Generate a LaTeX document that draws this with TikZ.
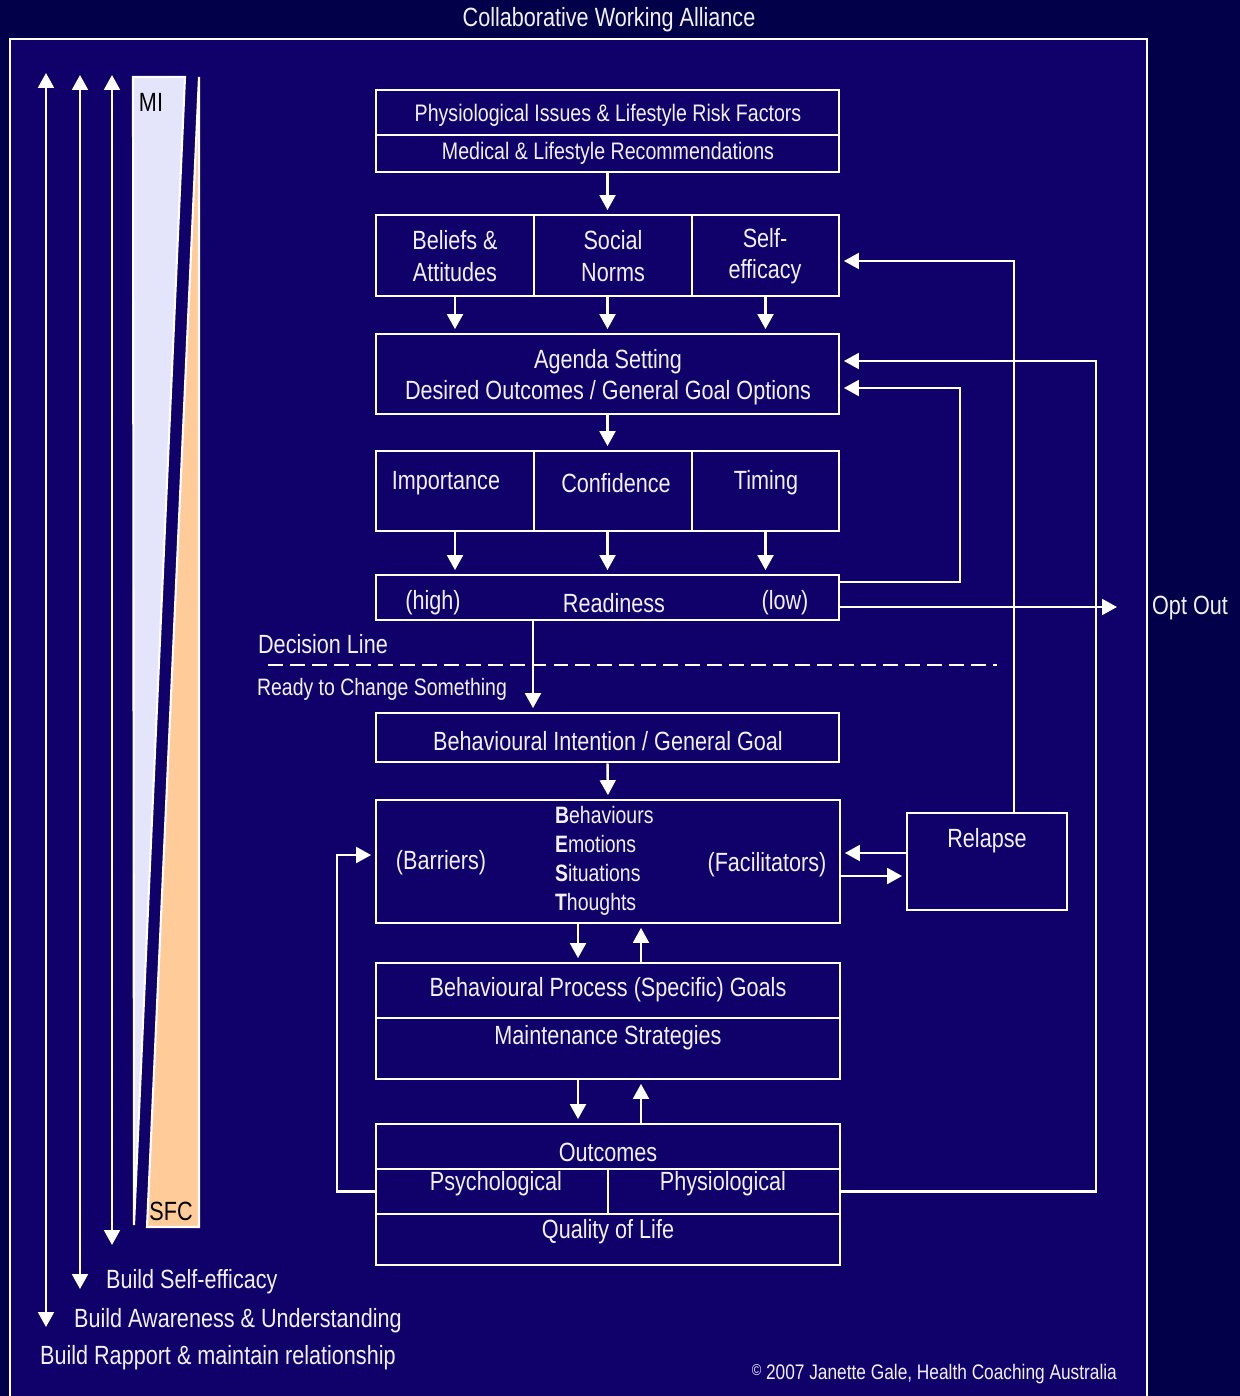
\documentclass[tikz,border=0pt]{standalone}
\usepackage{fontspec}
\setmainfont{Liberation Sans}[FakeStretch=0.82]
\usetikzlibrary{arrows.meta,fit}
\definecolor{mynavy}{RGB}{2,0,72}
\definecolor{mypanel}{RGB}{16,0,106}
\definecolor{mylilac}{RGB}{228,228,250}
\definecolor{mypeach}{RGB}{255,204,153}
\definecolor{mytext}{RGB}{242,242,255}

\begin{document}
\begin{tikzpicture}[x=0.02cm,y=-0.02cm,
  font=\fontsize{15pt}{18pt}\selectfont,
  cell/.style={draw=white,line width=1.6pt,inner sep=0pt},
  txt/.style={text=mytext,inner sep=1pt,align=center},
  small/.style={font=\fontsize{13.5pt}{16.4pt}\selectfont},
  arr/.style={draw=white,line width=1.4pt,-{Triangle[length=8.5pt,width=9pt]},shorten >=2pt},
  barr/.style={draw=white,line width=1.4pt,{Triangle[length=8.5pt,width=9pt]}-{Triangle[length=8.5pt,width=9pt]}}]

 \useasboundingbox (0,0) rectangle (1240,1396);
 \fill[mynavy] (0,0) rectangle (1240,1396);
 \fill[mypanel] (10,39) rectangle (1147,1396);
 \draw[white,line width=1.4pt] (10,1400) -- (10,39) -- (1147,39) -- (1147,1400);

 \node[txt] (title) at (609,20) {Collaborative Working Alliance};

  % MI and SFC wedges
 \draw[white,line width=1.2pt,fill=mylilac] (133,77) -- (185,77) -- (134,1225) -- cycle;
 \draw[white,line width=1.2pt,fill=mypeach] (199,77) -- (199,1227) -- (147,1227) -- cycle;
 \node[text=black] (mi) at (151,102) {MI};
 \node[text=black] (sfc) at (171,1211) {SFC};

  % left side arrows
 \coordinate (rap-t) at (46,73);  \coordinate (rap-b) at (46,1327);
 \coordinate (awa-t) at (80,75);  \coordinate (awa-b) at (80,1289);
 \coordinate (eff-t) at (112,75); \coordinate (eff-b) at (112,1245);
 \draw[barr] (rap-t) -- (rap-b);
 \draw[barr] (awa-t) -- (awa-b);
 \draw[barr] (eff-t) -- (eff-b);
 \node[txt,anchor=west] (eff) at (104,1282) {Build Self-efficacy};
 \node[txt,anchor=west] (awa) at (72,1321) {Build Awareness \& Understanding};
 \node[txt,anchor=west] (rap) at (38,1358) {Build Rapport \& maintain relationship};

  % boxes
 \node[cell,fit={(376,90) (839,135)}] (phys) {};
 \node[cell,fit={(376,135) (839,172)}] (medrec) {};
 \node[txt,font=\fontsize{13.6pt}{16pt}\selectfont] (phys-t) at (608,115) {Physiological Issues \& Lifestyle Risk Factors};
 \node[txt,font=\fontsize{13.6pt}{16pt}\selectfont] (medrec-t) at (608,153) {Medical \& Lifestyle Recommendations};

 \node[cell,fit={(376,215) (534,296)}] (beliefs) {};
 \node[cell,fit={(534,215) (692,296)}] (social) {};
 \node[cell,fit={(692,215) (839,296)}] (selfeff) {};
 \node[txt] (bel-t) at (455,256) {Beliefs \&\\Attitudes};
 \node[txt] (soc-t) at (613,256) {Social\\Norms};
 \node[txt] (self-t) at (765,256) {Self-\\efficacy};

 \node[cell,fit={(376,334) (839,414)}] (agenda) {};
 \node[txt] (agenda-t) at (608,377) {Agenda Setting\\Desired Outcomes / General Goal Options};

 \node[cell,fit={(376,451) (534,531)}] (importance) {};
 \node[cell,fit={(534,451) (692,531)}] (confidence) {};
 \node[cell,fit={(692,451) (839,531)}] (timing) {};
 \node[txt] (imp-t) at (446,483) {Importance};
 \node[txt] (con-t) at (616,483) {Confidence};
 \node[txt] (tim-t) at (766,483) {Timing};

 \node[cell,fit={(376,575) (839,620)}] (readiness) {};
 \node[txt] (high) at (433,603) {(high)};
 \node[txt] (ready-t) at (614,603) {Readiness};
 \node[txt] (low) at (785,603) {(low)};

 \node[txt] (decision) at (323,644) {Decision Line};
 \draw[white,line width=1.4pt,dash pattern=on 8.5pt off 4pt] (268,665) -- (997,665);
 \node[txt,small] (change) at (382,689) {Ready to Change Something};

 \node[cell,fit={(376,713) (839,762)}] (intention) {};
 \node[txt] (intention-t) at (608,741) {Behavioural Intention / General Goal};

 \node[cell,fit={(376,800) (840,923)}] (bestbox) {};
 \node[txt] (barriers) at (441,863) {(Barriers)};
 \node[txt,small,anchor=west,align=left] (best) at (553,861)
   {\textbf{B}ehaviours\\\textbf{E}motions\\\textbf{S}ituations\\\textbf{T}houghts};
 \node[txt] (facil) at (767,865) {(Facilitators)};

 \node[cell,fit={(907,813) (1067,910)}] (relapse) {};
 \node[txt] (rel-t) at (987,841) {Relapse};

 \node[cell,fit={(376,963) (840,1018)}] (process) {};
 \node[cell,fit={(376,1018) (840,1079)}] (maint) {};
 \node[txt] (process-t) at (608,990) {Behavioural Process (Specific) Goals};
 \node[txt] (maint-t) at (608,1038) {Maintenance Strategies};

 \node[cell,fit={(376,1124) (840,1169)}] (outcomes) {};
 \node[cell,fit={(376,1169) (608,1214)}] (psych) {};
 \node[cell,fit={(608,1169) (840,1214)}] (physio) {};
 \node[cell,fit={(376,1214) (840,1265)}] (qol) {};
 \node[txt] (outcomes-t) at (608,1152) {Outcomes};
 \node[txt] (psych-t) at (496,1184) {Psychological};
 \node[txt] (physio-t) at (723,1184) {Physiological};
 \node[txt] (qol-t) at (608,1232) {Quality of Life};

 \node[txt] (optout) at (1190,608) {Opt Out};
 \node[txt,anchor=east,font=\fontsize{12pt}{14pt}\selectfont] (copy) at (1119,1374)
   {\raisebox{2.5pt}{\fontsize{9pt}{10pt}\selectfont ©} 2007 Janette Gale, Health Coaching Australia};

  % draw downward flow
 \draw[arr] (medrec.south) -- (medrec.south |- social.north);
 \draw[arr] (beliefs.south) -- (beliefs.south |- agenda.north);
 \draw[arr] (agenda.north |- social.south) -- (agenda.north);
 \draw[arr] (selfeff.south) -- (selfeff.south |- agenda.north);
 \draw[arr] (agenda.south) -- (agenda.south |- confidence.north);
 \draw[arr] (importance.south) -- (importance.south |- readiness.north);
 \draw[arr] (readiness.north |- confidence.south) -- (readiness.north);
 \draw[arr] (timing.south) -- (timing.south |- readiness.north);

 \coordinate (ready) at (533,665);
 \draw[arr] (readiness.south -| ready) -- (intention.north -| ready);
 \draw[arr] (intention.south) -- (bestbox.north);

 \coordinate (dn) at (578,940);
 \coordinate (up) at (641,940);
 \draw[arr] (bestbox.south -| dn) -- (process.north -| dn);
 \draw[arr] (process.north -| up) -- (bestbox.south -| up);
 \draw[arr] (maint.south -| dn) -- (outcomes.north -| dn);
 \draw[arr] (outcomes.north -| up) -- (maint.south -| up);

  % draw feedback loops
 \coordinate (loopr) at (960,582);
 \coordinate (loopa) at (960,388);
 \draw[arr] (readiness.east |- loopr) -- (loopr) -- (loopa) -- (agenda.east |- loopa);
 \coordinate (optend) at (1117,607);
 \draw[arr,shorten >=0pt] (readiness.east |- optend) -- (optend);

 \coordinate (rtop) at (1014,261);
 \draw[arr] (relapse.north -| rtop) -- (rtop) -- (selfeff.east |- rtop);
 \coordinate (back) at (880,853);
 \coordinate (fwd) at (880,876);
 \draw[arr] (relapse.west |- back) -- (bestbox.east |- back);
 \draw[arr] (bestbox.east |- fwd) -- (relapse.west |- fwd);

 \coordinate (otop) at (1096,361);
 \draw[arr] (physio.east) -| (otop) -- (agenda.east |- otop);
 \coordinate (lback) at (337,855);
 \draw[arr] (psych.west) -| (lback) -- (bestbox.west |- lback);

\end{tikzpicture}
\end{document}
